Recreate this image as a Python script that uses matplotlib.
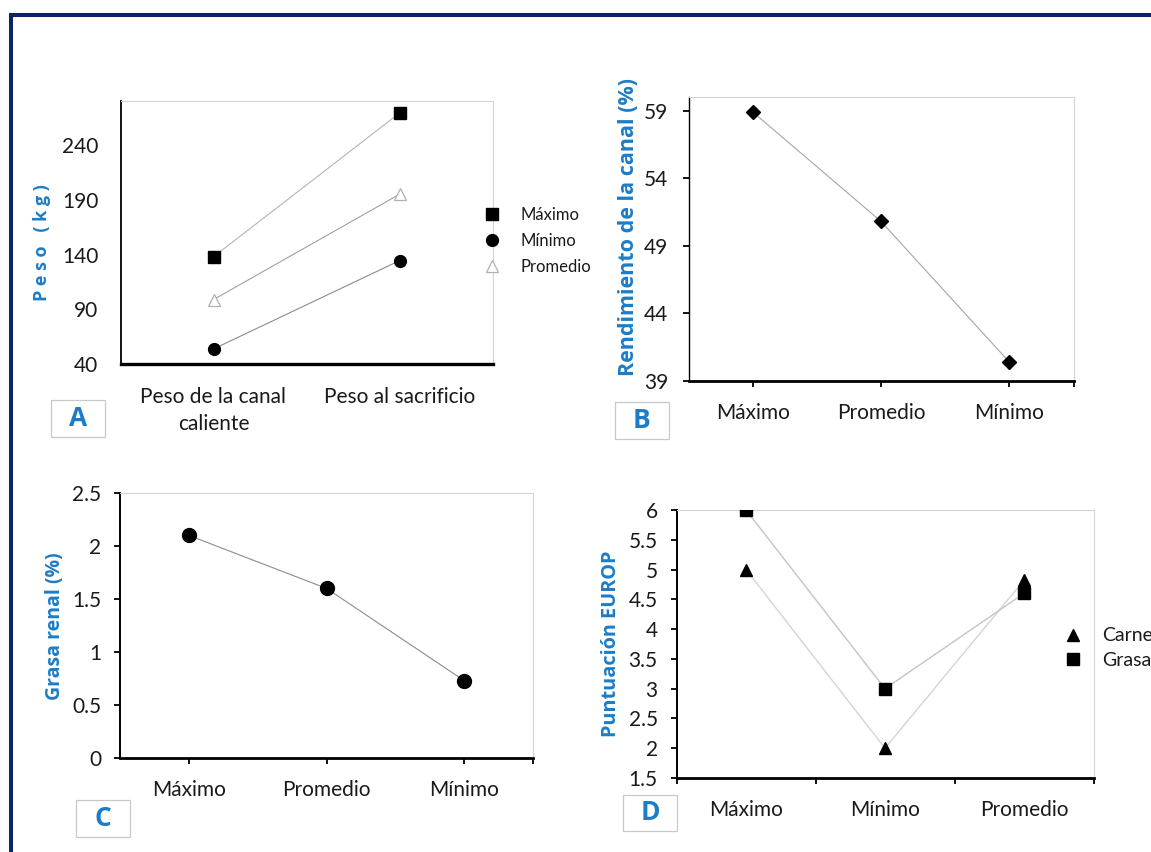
import matplotlib
matplotlib.use('Agg')
import matplotlib.pyplot as plt
from matplotlib.lines import Line2D
from matplotlib.patches import Rectangle

W, H = 1151, 852
plt.rcParams['font.family'] = ['Lato', 'DejaVu Sans']

# ---------------- data ----------------
a_categories = ['Peso de la canal\ncaliente', 'Peso al sacrificio']
a_maximo = [138, 269]
a_minimo = [54, 134.5]
a_promedio = [99, 195]
a_series_labels = ['Máximo', 'Mínimo', 'Promedio']
a_yticks = [40, 90, 140, 190, 240]

b_categories = ['Máximo', 'Promedio', 'Mínimo']
b_rendimiento = [58.9, 50.8, 40.4]
b_yticks = [39, 44, 49, 54, 59]

c_categories = ['Máximo', 'Promedio', 'Mínimo']
c_grasa_renal = [2.1, 1.6, 0.73]
c_yticks = [0, 0.5, 1, 1.5, 2, 2.5]

d_categories = ['Máximo', 'Mínimo', 'Promedio']
d_carne = [5, 2, 4.82]
d_grasa = [6, 3, 4.6]
d_series_labels = ['Carne', 'Grasa']
d_yticks = [1.5, 2, 2.5, 3, 3.5, 4, 4.5, 5, 5.5, 6]

panel_letters = ['A', 'B', 'C', 'D']
ylabels = ['P e s o   ( k g )', 'Rendimiento de la canal (%)',
           'Grasa renal (%)', 'Puntuación EUROP']

# ---------------- style ----------------
BLUE = '#1c7cc7'
NAVY = '#0d2463'
TXT = '#1a1a1a'
LINE = '#a6a6a6'
FAINT = '#d4d4d4'
TICKFS = 15

fig = plt.figure(figsize=(W / 100, H / 100), dpi=100)
fig.patch.set_facecolor('white')


def px_axes(l, t, r, b):
    return fig.add_axes([l / W, 1 - b / H, (r - l) / W, (b - t) / H])


def fmt(v):
    return ('%g' % v)


def style(ax, left_lw=1.3, bottom_lw=2.0):
    for s in ('top', 'right'):
        ax.spines[s].set_color(FAINT)
        ax.spines[s].set_linewidth(0.8)
    ax.spines['left'].set_color('black')
    ax.spines['left'].set_linewidth(left_lw)
    ax.spines['bottom'].set_color('black')
    ax.spines['bottom'].set_linewidth(bottom_lw)
    ax.set_facecolor('white')


def box_letter(letter, l, t, r, b):
    fig.add_artist(Rectangle((l / W, 1 - b / H), (r - l) / W, (b - t) / H,
                             transform=fig.transFigure, facecolor='white',
                             edgecolor='#c8c8c8', lw=0.9))
    fig.text((l + r) / 2 / W, 1 - (t + b) / 2 / H, letter, ha='center', va='center',
             fontsize=19, fontweight='bold', color=BLUE, family=['Open Sans', 'DejaVu Sans'])


def ylab(text, x, y, fs):
    fig.text(x / W, 1 - y / H, text, rotation=90, ha='center', va='center',
             fontsize=fs, fontweight='bold', color=BLUE, family=['Open Sans', 'DejaVu Sans'])


# ---------------- Panel A ----------------
axA = px_axes(120.5, 101, 492.5, 364.33)
style(axA, left_lw=1.3, bottom_lw=2.4)
xa = list(range(len(a_categories)))
axA.plot(xa, a_maximo, color='#b4b4b4', lw=0.8, marker='s', ms=8, mfc='black', mec='black', zorder=3)
axA.plot(xa, a_minimo, color='#8c8c8c', lw=0.8, marker='o', ms=8.5, mfc='black', mec='black', zorder=3)
axA.plot(xa, a_promedio, color='#a0a0a0', lw=0.8, marker='^', ms=9, mfc='white', mec='#b0b0b0', mew=0.9, zorder=3)
axA.set_xlim(-0.5, 1.5)
axA.set_ylim(40, 280)
axA.set_yticks(a_yticks)
axA.set_yticklabels([fmt(v) for v in a_yticks])
axA.set_xticks(xa)
axA.set_xticklabels(a_categories)
for lab in axA.get_xticklabels():
    lab.set_linespacing(1.45)
axA.tick_params(axis='both', length=0, labelsize=TICKFS, colors=TXT)
axA.tick_params(axis='y', pad=16)
axA.tick_params(axis='x', pad=16)
hA = [Line2D([], [], ls='none', marker='s', ms=8, mfc='black', mec='black'),
      Line2D([], [], ls='none', marker='o', ms=8.5, mfc='black', mec='black'),
      Line2D([], [], ls='none', marker='^', ms=9, mfc='white', mec='#b0b0b0', mew=0.9)]
legA = axA.legend(hA, a_series_labels, loc='center left',
                  bbox_to_anchor=(483.5 / W, 1 - 241 / H), bbox_transform=fig.transFigure,
                  frameon=False, borderpad=0, borderaxespad=0, handlelength=1.0,
                  handletextpad=1.25, labelspacing=0.6, fontsize=12)
for t in legA.get_texts():
    t.set_color(TXT)
ylab(ylabels[0], 42, 243, 13)
box_letter(panel_letters[0], 50.5, 400, 105, 437)

# ---------------- Panel B ----------------
axB = px_axes(688.5, 97, 1073.5, 381)
style(axB, left_lw=1.0, bottom_lw=2.0)
xb = list(range(len(b_categories)))
axB.plot(xb, b_rendimiento, color=LINE, lw=0.8, marker='D', ms=7.5, mfc='black', mec='black', zorder=3)
axB.set_xlim(-0.5, 2.5)
axB.set_ylim(39, 60)
axB.set_yticks(b_yticks)
axB.set_yticklabels([fmt(v) for v in b_yticks])
axB.set_xticks(xb)
axB.set_xticklabels(b_categories)
axB.set_xticks([2.5], minor=True)
axB.tick_params(axis='both', which='both', direction='out', length=4.5, width=1.3,
                color='black', labelsize=TICKFS, labelcolor=TXT)
axB.tick_params(axis='y', pad=10)
axB.tick_params(axis='x', pad=11)
ylab(ylabels[1], 629, 227.5, 15.5)
box_letter(panel_letters[1], 614.6, 402, 668.5, 439)

# ---------------- Panel C ----------------
axC = px_axes(120, 493, 533, 758)
style(axC, left_lw=1.4, bottom_lw=2.0)
xc = list(range(len(c_categories)))
axC.plot(xc, c_grasa_renal, color='#8c8c8c', lw=0.8, marker='o', ms=10, mfc='black', mec='black', zorder=3)
axC.set_xlim(-0.5, 2.5)
axC.set_ylim(0, 2.5)
axC.set_yticks(c_yticks)
axC.set_yticklabels([fmt(v) for v in c_yticks])
axC.set_xticks(xc)
axC.set_xticklabels(c_categories)
axC.set_xticks([2.5], minor=True)
axC.tick_params(axis='both', which='both', direction='out', length=4.5, width=1.3,
                color='black', labelsize=TICKFS, labelcolor=TXT)
axC.tick_params(axis='y', pad=9)
axC.tick_params(axis='x', pad=11)
ylab(ylabels[2], 55.5, 626, 14)
box_letter(panel_letters[2], 76, 800, 129.5, 837)

# ---------------- Panel D ----------------
axD = px_axes(676.5, 510, 1093.5, 778)
style(axD, left_lw=1.4, bottom_lw=2.0)
xd = list(range(len(d_categories)))
axD.plot(xd, d_carne, color=FAINT, lw=1.0, marker='^', ms=8.5, mfc='black', mec='black', zorder=3)
axD.plot(xd, d_grasa, color='#c4c4c4', lw=1.0, marker='s', ms=8.5, mfc='black', mec='black', zorder=3)
axD.set_xlim(-0.5, 2.5)
axD.set_ylim(1.5, 6)
axD.set_yticks(d_yticks)
axD.set_yticklabels([fmt(v) for v in d_yticks])
axD.set_xticks(xd)
axD.set_xticklabels(d_categories)
axD.set_xticks([-0.5, 0.5, 1.5, 2.5], minor=True)
axD.tick_params(axis='x', which='major', length=0, labelsize=TICKFS, labelcolor=TXT, pad=16)
axD.tick_params(axis='x', which='minor', direction='out', length=4.5, width=1.3, color='black')
axD.tick_params(axis='y', direction='out', length=4.5, width=1.3, color='black',
                labelsize=TICKFS, labelcolor=TXT, pad=9)
hD = [Line2D([], [], ls='none', marker='^', ms=8.5, mfc='black', mec='black'),
      Line2D([], [], ls='none', marker='s', ms=8.5, mfc='black', mec='black')]
legD = axD.legend(hD, d_series_labels, loc='center left',
                  bbox_to_anchor=(1063.7 / W, 1 - 648 / H), bbox_transform=fig.transFigure,
                  frameon=False, borderpad=0, borderaxespad=0, handlelength=1.0,
                  handletextpad=1.0, labelspacing=0.38, fontsize=14)
for t in legD.get_texts():
    t.set_color(TXT)
ylab(ylabels[3], 611, 644, 14.3)
box_letter(panel_letters[3], 623, 795, 677, 831)

# ---------------- outer frame ----------------
fig.add_artist(Line2D([11 / W, 11 / W], [0, 1 - 13 / H], transform=fig.transFigure,
                      color=NAVY, lw=2.9, solid_capstyle='butt'))
fig.add_artist(Line2D([9 / W, 1], [1 - 15 / H, 1 - 15 / H], transform=fig.transFigure,
                      color=NAVY, lw=2.9, solid_capstyle='butt'))

fig.savefig('out.png', dpi=100, facecolor='white')
